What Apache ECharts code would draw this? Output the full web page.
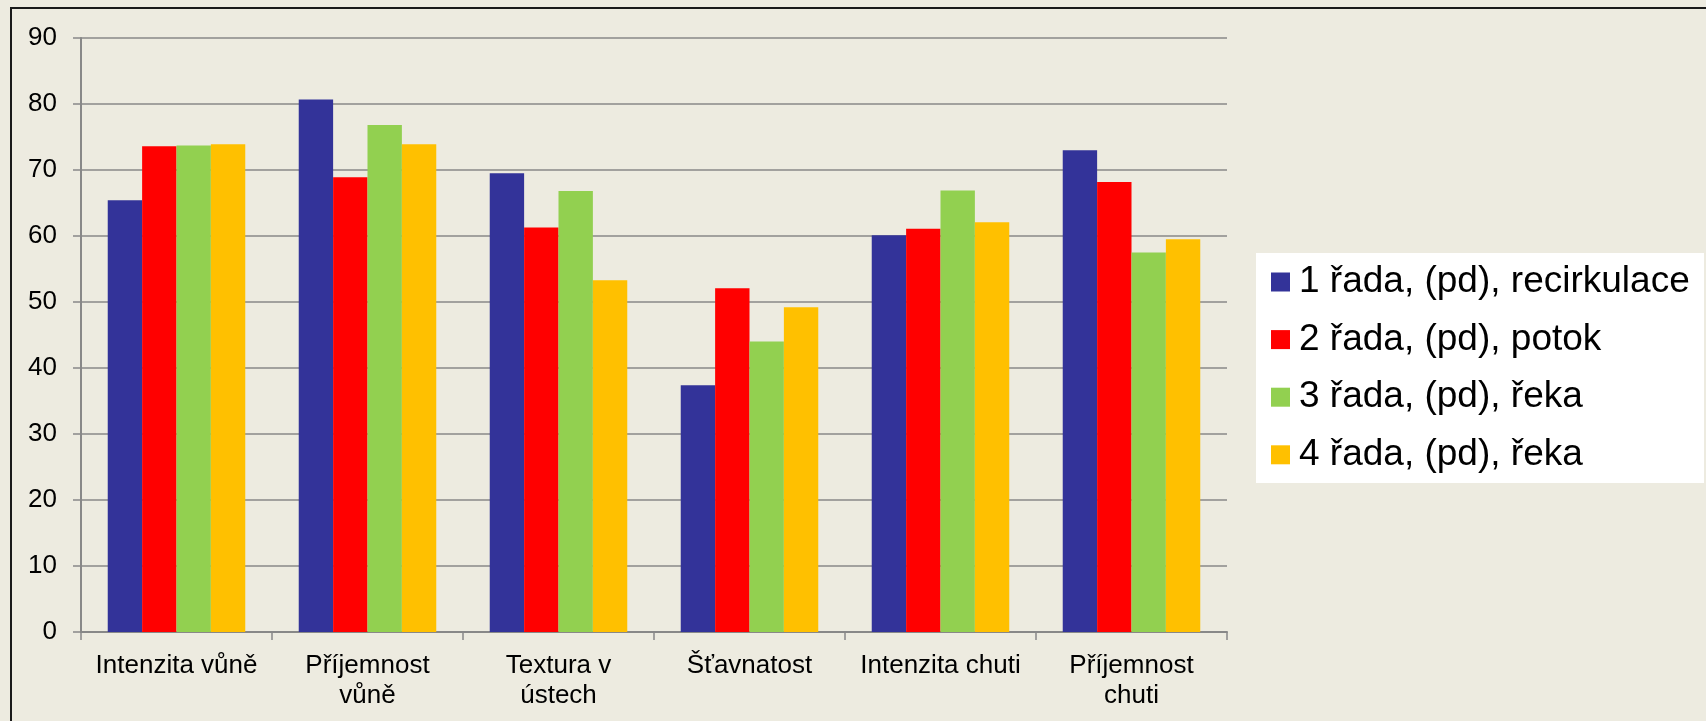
<!DOCTYPE html>
<html>
<head>
<meta charset="utf-8">
<script src="https://cdn.jsdelivr.net/npm/echarts@6/dist/echarts.min.js"></script>
<style>
html,body{margin:0;padding:0;background:#EDEBE0;}
#chart{width:1706px;height:721px;}
</style>
</head>
<body>
<div id="chart"></div>
<script>
const categories = ['Intenzita vůně', 'Příjemnost vůně', 'Textura v ústech', 'Šťavnatost', 'Intenzita chuti', 'Příjemnost chuti'];
const tickLabels = ['Intenzita vůně', 'Příjemnost\nvůně', 'Textura v\nústech', 'Šťavnatost', 'Intenzita chuti', 'Příjemnost\nchuti'];
const seriesNames = ['1 řada, (pd), recirkulace', '2 řada, (pd), potok', '3 řada, (pd), řeka', '4 řada, (pd), řeka'];
const rada1 = [65.4, 80.7, 69.5, 37.4, 60.1, 73.0];
const rada2 = [73.6, 68.9, 61.3, 52.1, 61.1, 68.2];
const rada3 = [73.7, 76.8, 66.8, 44.0, 66.9, 57.5];
const rada4 = [73.9, 73.9, 53.3, 49.2, 62.1, 59.5];
const colors = ['#333399', '#FF0000', '#92D050', '#FFC000'];

const FONT = '"Liberation Sans", Arial, sans-serif';
const chart = echarts.init(document.getElementById('chart'), null, {renderer: 'canvas'});
const values = [rada1, rada2, rada3, rada4];

chart.setOption({
  backgroundColor: '#EDEBE0',
  animation: false,
  color: colors,
  textStyle: {fontFamily: FONT},
  graphic: [
    {type: 'rect', left: 1256, top: 253, shape: {width: 448, height: 230}, style: {fill: '#FFFFFF'}, z: 0},
    {type: 'rect', shape: {x: 11, y: 8, width: 1800, height: 800}, style: {fill: 'none', stroke: '#1a1a1a', lineWidth: 2}, z: 0}
  ],
  grid: {left: 81, right: 479, top: 38, bottom: 89, containLabel: false, outerBoundsMode: 'none'},
  legend: {
    orient: 'vertical',
    left: 1271,
    top: 263,
    padding: 0,
    itemWidth: 19,
    itemHeight: 19,
    itemGap: 19.6,
    icon: 'rect',
    textStyle: {fontFamily: FONT, fontSize: 37, lineHeight: 38, color: '#000', padding: [0, 0, 0, 4]},
    z: 5
  },
  xAxis: {
    type: 'category',
    data: categories,
    boundaryGap: true,
    axisLine: {show: true, lineStyle: {color: '#888888', width: 2}},
    axisTick: {show: true, length: 8, alignWithLabel: false, interval: 0, lineStyle: {color: '#888888', width: 1.5}},
    axisLabel: {
      interval: 0, fontSize: 26, lineHeight: 30, color: '#000', margin: 19, fontFamily: FONT,
      formatter: (v, i) => tickLabels[i]
    }
  },
  yAxis: {
    type: 'value',
    min: 0, max: 90, interval: 10,
    axisLine: {show: true, lineStyle: {color: '#888888', width: 2}},
    axisTick: {show: true, length: 8, lineStyle: {color: '#888888', width: 1.5}},
    splitLine: {show: true, lineStyle: {color: '#888888', width: 1.5}},
    axisLabel: {fontSize: 26, color: '#000', margin: 24, fontFamily: FONT}
  },
  series: seriesNames.map((name, i) => ({
    name: name,
    type: 'bar',
    data: values[i],
    barGap: '0%',
    barCategoryGap: '28%',
    itemStyle: {color: colors[i]}
  }))
});
</script>
</body>
</html>
